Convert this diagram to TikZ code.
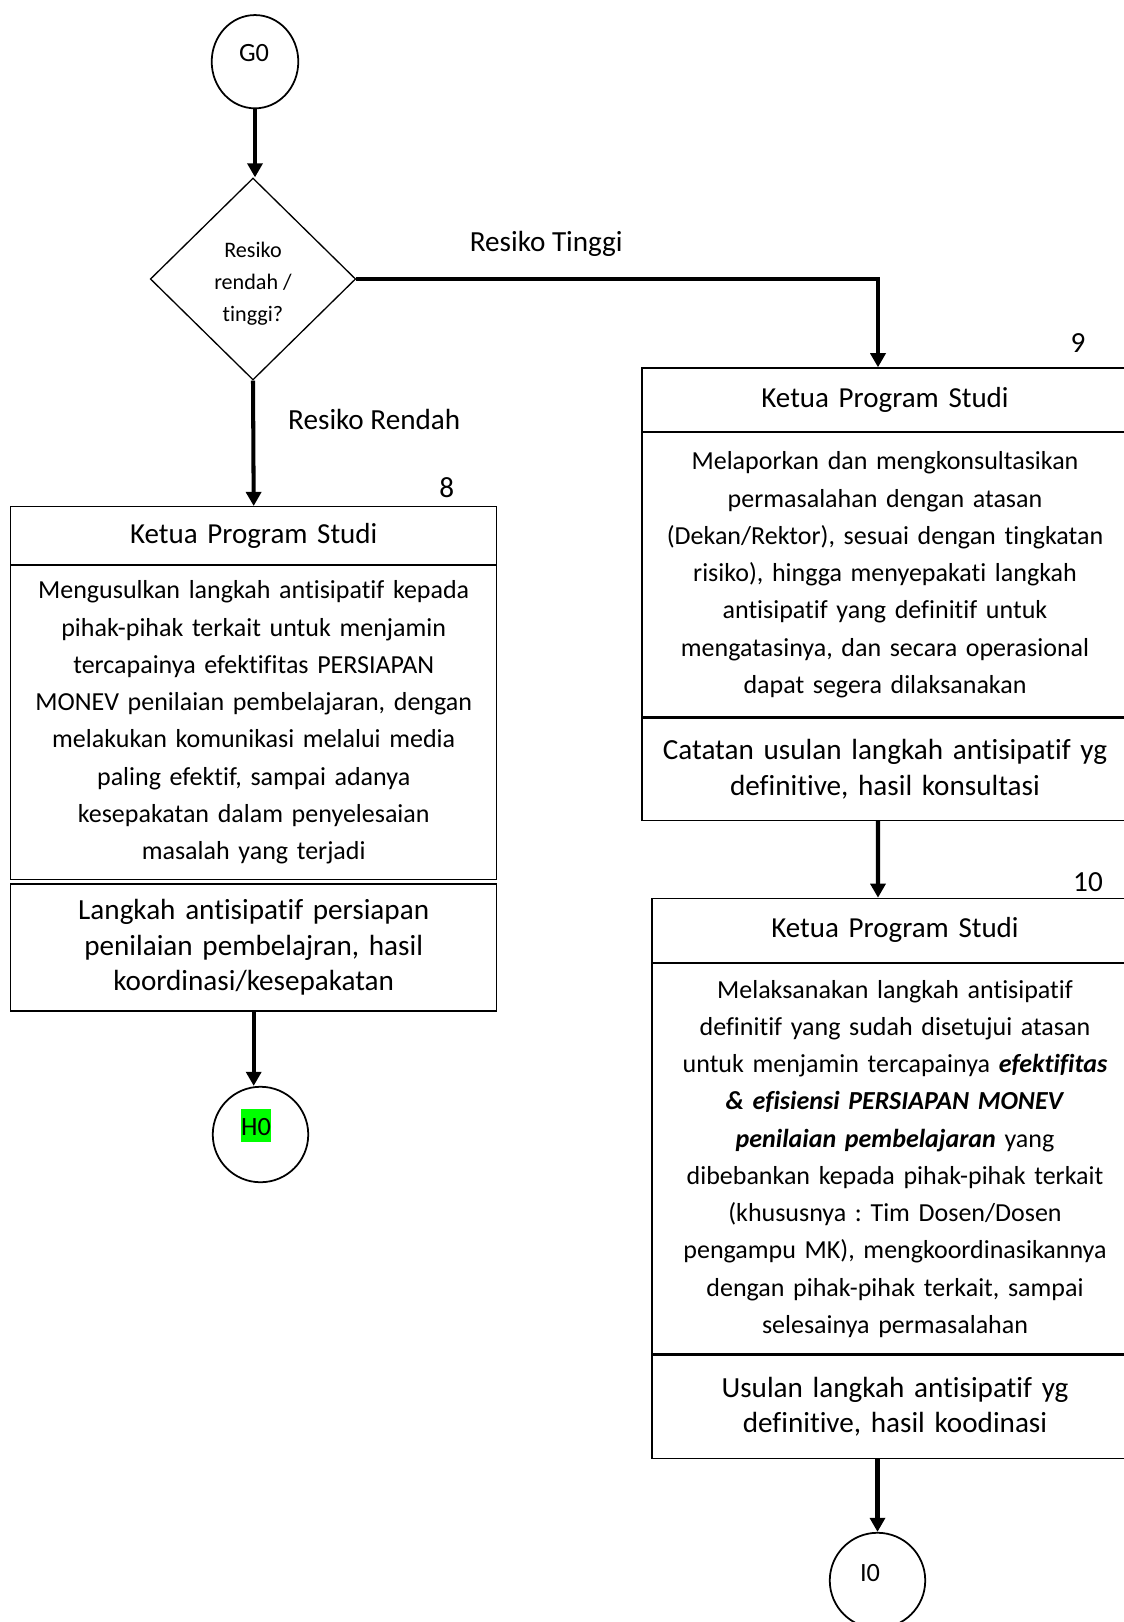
\documentclass[tikz,border=0pt]{standalone}
\usepackage{fontspec}
\setmainfont{Carlito}[Ligatures=NoCommon]
\usetikzlibrary{arrows.meta,shapes.geometric,positioning}
\frenchspacing

\begin{document}
\begin{tikzpicture}[x=0.02cm,y=-0.02cm,
    box/.style={draw,line width=0.75pt,rectangle,inner sep=0pt,minimum width=9.72cm,text width=9.72cm,align=center,anchor=north},
    head/.style={box,font=\fontsize{16.5}{20}\selectfont},
    body/.style={box,font=\fontsize{14.8}{21.2}\selectfont},
    foot/.style={box,font=\fontsize{16.6}{20.2}\selectfont},
    conn/.style={draw,line width=1pt,ellipse,inner sep=0pt,minimum width=1.91cm,minimum height=1.91cm},
    decide/.style={draw,line width=0.75pt,diamond,inner sep=0pt,minimum width=4.11cm,minimum height=4.04cm,align=center,font=\fontsize{12.6}{18}\selectfont},
    lbl/.style={inner sep=0pt,font=\fontsize{16.6}{20}\selectfont},
    arr/.style={line width=2.3pt,-{Triangle[length=8pt,width=8.5pt]}}]

    \useasboundingbox (0,0) rectangle (1123,1622);

    % Start and decision
    \node[conn,minimum width=1.732cm,minimum height=1.866cm,
        label={[inner sep=0pt,font=\fontsize{15}{18}\selectfont,xshift=-0.02cm,yshift=0.168cm]center:G0}] (g0) at (255,61.7) {};
    \node[decide] (risk) at (253,279) {\rule{0pt}{0.5cm}Resiko\\rendah /\\tinggi?};

    % Low risk branch
    \node[head,minimum height=1.152cm] (t8) at (253.7,506) {Ketua Program Studi};
    \node[body,minimum height=6.28cm] (b8) at (t8.south) {Mengusulkan langkah antisipatif kepada\\
        pihak-pihak terkait untuk menjamin\\
        tercapainya efektifitas PERSIAPAN\\
        MONEV penilaian pembelajaran, dengan\\
        melakukan komunikasi melalui media\\
        paling efektif, sampai adanya\\
        kesepakatan dalam penyelesaian\\
        masalah yang terjadi};
    \node[foot,minimum height=2.54cm] (f8) at ([yshift=-0.066cm]b8.south) {Langkah antisipatif persiapan\\
        penilaian pembelajran, hasil\\
        koordinasi/kesepakatan};
    \node[lbl] (n8) at (446.7,487.7) {8};
    \node[conn,label={[inner sep=0pt,font=\fontsize{15}{18}\selectfont,xshift=-0.09cm,yshift=0.182cm]center:{\setlength{\fboxsep}{0pt}\colorbox{green}{\rule[-3.7pt]{0pt}{18.6pt}H0}}}] (h0) at (260.5,1134.5) {};

    % High risk branch
    \node[head,minimum height=1.268cm] (t9) at (885,367.3) {Ketua Program Studi};
    \node[body,minimum height=5.686cm] (b9) at (t9.south) {Melaporkan dan mengkonsultasikan\\
        permasalahan dengan atasan\\
        (Dekan/Rektor), sesuai dengan tingkatan\\
        risiko), hingga menyepakati langkah\\
        antisipatif yang definitif untuk\\
        mengatasinya, dan secara operasional\\
        dapat segera dilaksanakan};
    \node[foot,minimum height=2.04cm] (f9) at (b9.south) {Catatan usulan langkah antisipatif yg\\
        definitive, hasil konsultasi};
    \node[lbl] (n9) at (1078,343) {9};

    \node[head,minimum height=1.28cm] (t10) at (895,897.7) {Ketua Program Studi};
    \node[body,minimum height=7.806cm] (b10) at (t10.south) {Melaksanakan langkah antisipatif\\
        definitif yang sudah disetujui atasan\\
        untuk menjamin tercapainya \textbf{\textit{efektifitas}}\\
        \textbf{\textit{\& efisiensi PERSIAPAN MONEV}}\\
        \textbf{\textit{penilaian pembelajaran}} yang\\
        dibebankan kepada pihak-pihak terkait\\
        (khususnya : Tim Dosen/Dosen\\
        pengampu MK), mengkoordinasikannya\\
        dengan pihak-pihak terkait, sampai\\
        selesainya permasalahan};
    \node[foot,minimum height=2.06cm] (f10) at (b10.south) {Usulan langkah antisipatif yg\\
        definitive, hasil koodinasi};
    \node[lbl] (n10) at (1088,882) {10};
    \node[conn,label={[inner sep=0pt,font=\fontsize{15}{18}\selectfont,xshift=-0.15cm,yshift=0.15cm]center:I0}] (i0) at (877.5,1580.5) {};

    % Connectors
    \draw[arr] (g0.south) -- (g0.south |- risk.north);
    \draw[arr] (risk.south) -- (t8.north) node[lbl,pos=0.31,right=0.66cm] (lrendah) {Resiko Rendah};
    \draw[arr] (risk.east) -| ([xshift=-0.14cm]t9.north) node[lbl,pos=0.182,above=0.41cm] (ltinggi) {Resiko Tinggi};
    \draw[arr] ([xshift=-0.14cm]f9.south) -- ([xshift=-0.34cm]t10.north);
    \draw[arr] (f8.south) -- (f8.south |- h0.north);
    \draw[arr] (f10.south -| i0.north) -- (i0.north);
\end{tikzpicture}
\end{document}
